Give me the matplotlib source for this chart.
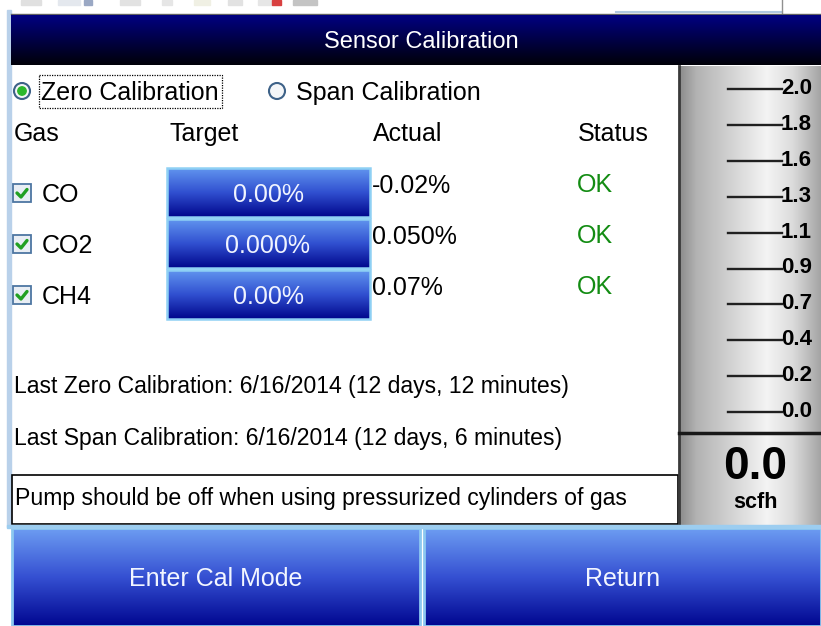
import numpy as np
import matplotlib
matplotlib.use("Agg")
import matplotlib.pyplot as plt
from matplotlib.patches import Rectangle, Circle
from matplotlib.colors import to_rgb

plt.rcParams['font.family'] = ['Liberation Sans', 'DejaVu Sans']

# ---- screen contents ----
title = "Sensor Calibration"
modes = ["Zero Calibration", "Span Calibration"]
headers = ["Gas", "Target", "Actual", "Status"]
gases = ["CO", "CO2", "CH4"]
targets = ["0.00%", "0.000%", "0.00%"]
actuals = ["-0.02%", "0.050%", "0.07%"]
statuses = ["OK", "OK", "OK"]
last_zero = "Last Zero Calibration: 6/16/2014 (12 days, 12 minutes)"
last_span = "Last Span Calibration: 6/16/2014 (12 days, 6 minutes)"
warning = "Pump should be off when using pressurized cylinders of gas"
gauge_labels = ["2.0", "1.8", "1.6", "1.3", "1.1", "0.9", "0.7", "0.4", "0.2", "0.0"]
flow_reading = "0.0"
flow_unit = "scfh"
buttons = ["Enter Cal Mode", "Return"]

W, H = 821, 626
fig = plt.figure(figsize=(W / 100, H / 100), dpi=100)
ax = fig.add_axes([0, 0, 1, 1])
ax.set_xlim(0, W)
ax.set_ylim(H, 0)
ax.axis('off')


def grad(x0, x1, y0, y1, stops, horizontal=False, z=1):
    t = np.linspace(0, 1, 256)
    pos = [s[0] for s in stops]
    cols = np.array([to_rgb(s[1]) for s in stops])
    arr = np.stack([np.interp(t, pos, cols[:, k]) for k in range(3)], axis=-1)
    arr = arr[None, :, :] if horizontal else arr[:, None, :]
    ax.imshow(arr, extent=(x0, x1, y1, y0), origin='upper', aspect='auto',
              interpolation='bilinear', zorder=z)


def txt(x, yc, s, size, color='black', ha='left', weight='normal', z=5):
    # yc = centre of the capital letters
    base = yc + 0.358 * size * 100 / 72
    ax.text(x, base, s, fontsize=size, color=color, ha=ha, va='baseline',
            fontweight=weight, zorder=z)


# background + left border
ax.add_patch(Rectangle((0, 0), W, H, color='white', zorder=0))
ax.add_patch(Rectangle((7, 10), 4, 517, color='#b9d1ea', zorder=1))

# top strip (faint toolbar remnants)
for x0, w, c in [(21, 20, '#e0e0e0'), (58, 22, '#e4e8ee'), (84, 8, '#9aa8c4'),
                 (120, 20, '#e2e2e2'), (162, 10, '#e6e6e6'), (194, 16, '#f0f0e4'),
                 (228, 14, '#e2e2e2'), (258, 14, '#e6e6e6'), (272, 9, '#d84040'),
                 (293, 24, '#c4c4c4')]:
    ax.add_patch(Rectangle((x0, 0), w, 5, color=c, zorder=1))
ax.plot([616, 782], [12, 12], color='#b0c8e0', lw=1.5, zorder=2)
ax.plot([782, 782], [0, 13], color='#909090', lw=1, zorder=2)
ax.plot([11, W], [14, 14], color='#606060', lw=1, zorder=2)

# title bar
grad(11, W, 15, 65, [(0, '#000082'), (1, '#000008')], z=2)
txt(421, 40, title, 17, color='white', ha='center')

# mode radio buttons
for i, (rx, label) in enumerate(zip([22, 277], modes)):
    ax.add_patch(Circle((rx, 91), 8, facecolor='#f4f6f8', edgecolor='#3e6288', lw=1.5, zorder=3))
    if i == 0:
        ax.add_patch(Circle((rx, 91), 4.2, color='#2cb82c', zorder=4))
    txt(rx + 19, 91, label, 18)
ax.add_patch(Rectangle((39, 75), 183, 33, fill=False, edgecolor='black', lw=0.9,
                       linestyle=(0, (1, 1)), zorder=4))

# column headers
for x, h in zip([14, 170, 373, 578], headers):
    txt(x, 132, h, 18)

# rows
row_y = [193, 244, 295]
for yc, gas, tgt, act, st in zip(row_y, gases, targets, actuals, statuses):
    ax.add_patch(Rectangle((13, yc - 9), 18, 18, facecolor='#e9eef4', edgecolor='#4d76a2', lw=1.3, zorder=3))
    ax.plot([17, 21, 27], [yc, yc + 4, yc - 3.5], color='#22a022', lw=2.4, zorder=4,
            solid_capstyle='round')
    txt(42, yc, gas, 18)
    grad(167, 370, yc - 25, yc + 24, [(0, '#6195ef'), (0.5, '#3050d0'), (1, '#00068c')], z=3)
    ax.add_patch(Rectangle((167, yc - 25), 203, 49, fill=False, edgecolor='#8ed0f4', lw=1.8, zorder=4))
    txt(268, yc, tgt, 18, color='#f0f4ff', ha='center')
    txt(372, yc - 9, act, 18)
    txt(577, yc - 10, st, 18, color='#138c13')

# calibration history
txt(14, 385, last_zero, 16.6)
txt(14, 437, last_span, 16.6)

# warning box
ax.add_patch(Rectangle((12, 475), 666, 49, facecolor='white', edgecolor='black', lw=1.2, zorder=3))
txt(15, 497, warning, 16.6)

# flow gauge
gray_stops = [(0, '#8a8a8a'), (0.12, '#b2b2b2'), (0.62, '#f4f4f4'), (0.8, '#dcdcdc'), (1, '#a4a4a4')]
grad(679, W, 66, 527, gray_stops, horizontal=True, z=2)
ax.plot([679, 679], [66, 527], color='#3a3a3a', lw=2, zorder=4)
tick_y = 89 + 35.9 * np.arange(len(gauge_labels))
for yt, lab in zip(tick_y, gauge_labels):
    ax.plot([728, 782], [yt, yt], color='#202020', lw=1.7, zorder=4)
    txt(781, yt - 3, lab, 16, weight='bold')
ax.plot([679, W], [433, 433], color='#181818', lw=2.5, zorder=4)
txt(755, 463, flow_reading, 33, ha='center', weight='bold')
txt(755, 500, flow_unit, 15.5, ha='center', weight='bold')

# bottom buttons
btn_stops = [(0, '#6d9df2'), (0.5, '#3550d2'), (1, '#000690')]
for (x0, x1), label in zip([(12, 420), (424, W)], buttons):
    grad(x0, x1, 528, H, btn_stops, z=3)
    ax.add_patch(Rectangle((x0, 528), x1 - x0, H - 528, fill=False, edgecolor='#8cc8f0', lw=2, zorder=4))
    txt((x0 + x1) / 2, 577, label, 18, color='#f2f6ff', ha='center')
ax.add_patch(Rectangle((7, 525), W - 7, 3, color='#9ccdf0', zorder=4))

fig.savefig('out.png', dpi=100)
